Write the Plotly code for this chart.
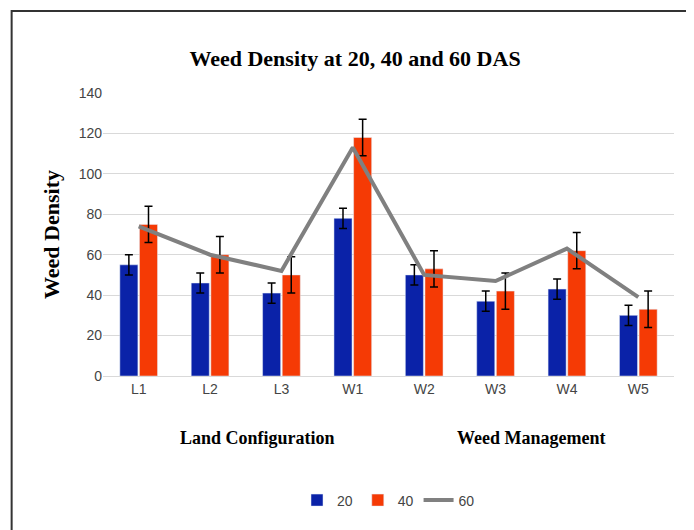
import plotly.graph_objects as go

categories = ["L1", "L2", "L3", "W1", "W2", "W3", "W4", "W5"]
das20 = [55, 46, 41, 78, 50, 37, 43, 30]
das20_err = [5, 5, 5, 5, 5, 5, 5, 5]
das40 = [75, 60, 50, 118, 53, 42, 62, 33]
das40_err = [9, 9, 9, 9, 9, 9, 9, 9]
das60 = [74, 60, 52, 113, 50, 47, 63, 39]

serif = "Liberation Serif"

fig = go.Figure()
fig.add_trace(go.Bar(x=categories, y=das20, name="20", marker_color="#0a22a8",
                     error_y=dict(type="data", array=das20_err, color="black", thickness=1.5, width=4)))
fig.add_trace(go.Bar(x=categories, y=das40, name="40", marker_color="#f53a05",
                     error_y=dict(type="data", array=das40_err, color="black", thickness=1.5, width=4)))
fig.add_trace(go.Scatter(x=categories, y=das60, name="60", mode="lines",
                         line=dict(color="#808080", width=4)))

fig.update_layout(
    width=694, height=530,
    paper_bgcolor="white", plot_bgcolor="white",
    margin=dict(l=95, r=28, t=85, b=162),
    title=dict(text="<b>Weed Density at 20, 40 and 60 DAS</b>", x=0.5, y=0.92,
               font=dict(family=serif, size=22, color="black")),
    barmode="group", bargap=0.45, bargroupgap=0.08,
    font=dict(family="Liberation Sans", size=14, color="#444"),
    legend=dict(orientation="h", x=0.5, xanchor="center", y=-0.44, yanchor="middle",
                font=dict(size=14, color="#444")),
    shapes=[dict(type="rect", xref="paper", yref="paper", x0=-0.16, x1=1.045, y0=-0.56, y1=1.29,
                 line=dict(color="#333", width=2))],
    annotations=[
        dict(text="<b>Land Configuration</b>", xref="paper", yref="paper", x=0.27, y=-0.22,
             xanchor="center", yanchor="middle", showarrow=False,
             font=dict(family=serif, size=18, color="black")),
        dict(text="<b>Weed Management</b>", xref="paper", yref="paper", x=0.75, y=-0.22,
             xanchor="center", yanchor="middle", showarrow=False,
             font=dict(family=serif, size=18, color="black")),
    ],
)
fig.update_yaxes(range=[0, 140], dtick=20, showgrid=True, gridcolor="#d9d9d9",
                 title=dict(text="<b>Weed Density</b>", font=dict(family=serif, size=22, color="black"), standoff=12),
                 ticks="", zeroline=False, showline=False)
fig.update_xaxes(showline=True, linecolor="#d9d9d9", ticks="")

fig.write_html("out.html")
